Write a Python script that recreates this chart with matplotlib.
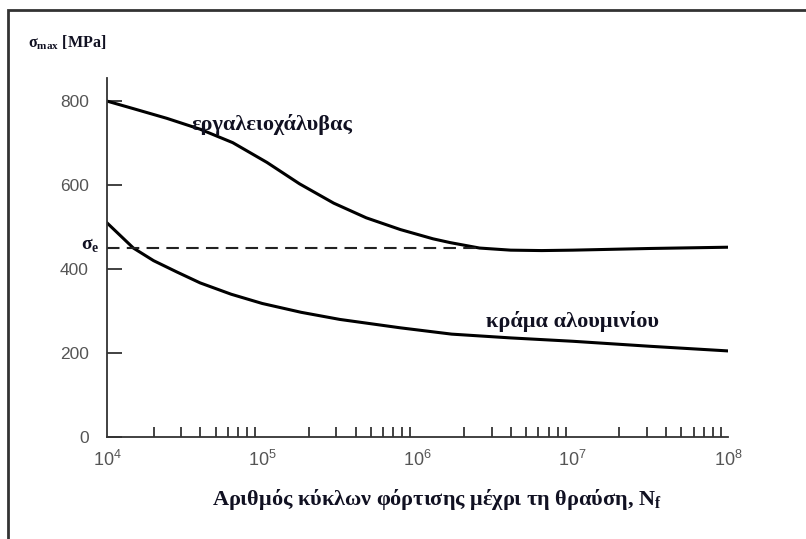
import numpy as np
import matplotlib
matplotlib.use("Agg")
from matplotlib import pyplot as plt
from matplotlib.patches import Rectangle

# τιμές από το διάγραμμα (log10 N -> MPa)
steel_logN = [4.0, 4.17, 4.385, 4.6, 4.81, 5.03, 5.24, 5.46, 5.67, 5.89, 6.1, 6.21,
              6.4, 6.6, 6.8, 7.0, 7.5, 8.0]
steel_s = [800, 782, 759, 733, 701, 654, 603, 557, 522, 494, 472, 463,
           450, 445, 444, 445, 449, 452]
alu_logN = [4.0, 4.17, 4.3, 4.45, 4.6, 4.8, 5.0, 5.25, 5.5, 5.89, 6.22, 6.6, 7.0, 7.5, 8.0]
alu_s = [510, 450, 420, 393, 367, 340, 318, 297, 280, 260, 245, 236, 228, 216, 205]
sigma_e = 450
sigma_e_end = 10 ** 6.4
y_ticks = [0, 200, 400, 600, 800]
x_ticks = [1e4, 1e5, 1e6, 1e7, 1e8]
x_ticklabels = [r'$10^{4}$', r'$10^{5}$', r'$10^{6}$', r'$10^{7}$', r'$10^{8}$']

plt.rcParams['mathtext.fontset'] = 'custom'
plt.rcParams['mathtext.rm'] = 'Liberation Sans'
plt.rcParams['mathtext.it'] = 'Liberation Sans'

W, H = 806, 539
fig = plt.figure(figsize=(W / 100, H / 100), dpi=100)
ax = fig.add_axes([107 / W, 102 / H, (728 - 107) / W, (437 - 78) / H])

ax.plot(np.power(10, steel_logN), steel_s, color='black', lw=2.2, solid_joinstyle='round')
ax.plot(np.power(10, alu_logN), alu_s, color='black', lw=2.2, solid_joinstyle='round')
ax.plot([1e4, sigma_e_end], [sigma_e, sigma_e], color='#222222', lw=1.5, ls=(0, (6, 3.5)))

ax.set_xscale('log')
ax.set_xlim(1e4, 1e8)
ax.set_ylim(0, 855)
ax.spines['top'].set_visible(False)
ax.spines['right'].set_visible(False)
for s in ['left', 'bottom']:
    ax.spines[s].set_color('#333333')
    ax.spines[s].set_linewidth(1.3)

ax.set_yticks(y_ticks)
ax.set_xticks(x_ticks)
ax.set_xticklabels(x_ticklabels)
ax.xaxis.set_minor_locator(matplotlib.ticker.LogLocator(base=10, subs=np.arange(2, 10)))
ax.xaxis.set_minor_formatter(matplotlib.ticker.NullFormatter())
ax.tick_params(axis='y', direction='in', length=11, width=1.3, color='#333333',
               labelsize=12.5, labelcolor='#555555', pad=13)
ax.tick_params(axis='x', which='major', direction='in', length=0,
               labelsize=13, labelcolor='#555555', pad=9)
ax.tick_params(axis='x', which='minor', direction='in', length=7, width=1.2, color='#222222')
for lab in ax.get_yticklabels() + ax.get_xticklabels():
    lab.set_family('Liberation Sans')

serif = dict(family='Liberation Serif', fontweight='bold', color='#111122')
ax.text(10 ** 5.06, 745, 'εργαλειοχάλυβας', fontsize=16, ha='center', va='center', **serif)
ax.text(10 ** 7.0, 275, 'κράμα αλουμινίου', fontsize=16, ha='center', va='center', **serif)
ax.text(-0.012, sigma_e + 8, r'σ$_\mathregular{e}$', transform=ax.get_yaxis_transform(),
        fontsize=14, ha='right', va='center', **serif)
fig.text(28 / W, 1 - 43 / H, r'σ$_\mathregular{max}$ [MPa]', fontsize=11.5, ha='left', va='center', **serif)
fig.text(437 / W, 1 - 500 / H, r'Αριθμός κύκλων φόρτισης μέχρι τη θραύση, N$_\mathregular{f}$',
         fontsize=16, ha='center', va='center', **serif)

fig.add_artist(Rectangle((8 / W, -0.2), 1.0, 1.2 - 10 / H, transform=fig.transFigure,
                         fill=False, edgecolor='#333333', lw=2))

fig.savefig('out.png', dpi=100)
